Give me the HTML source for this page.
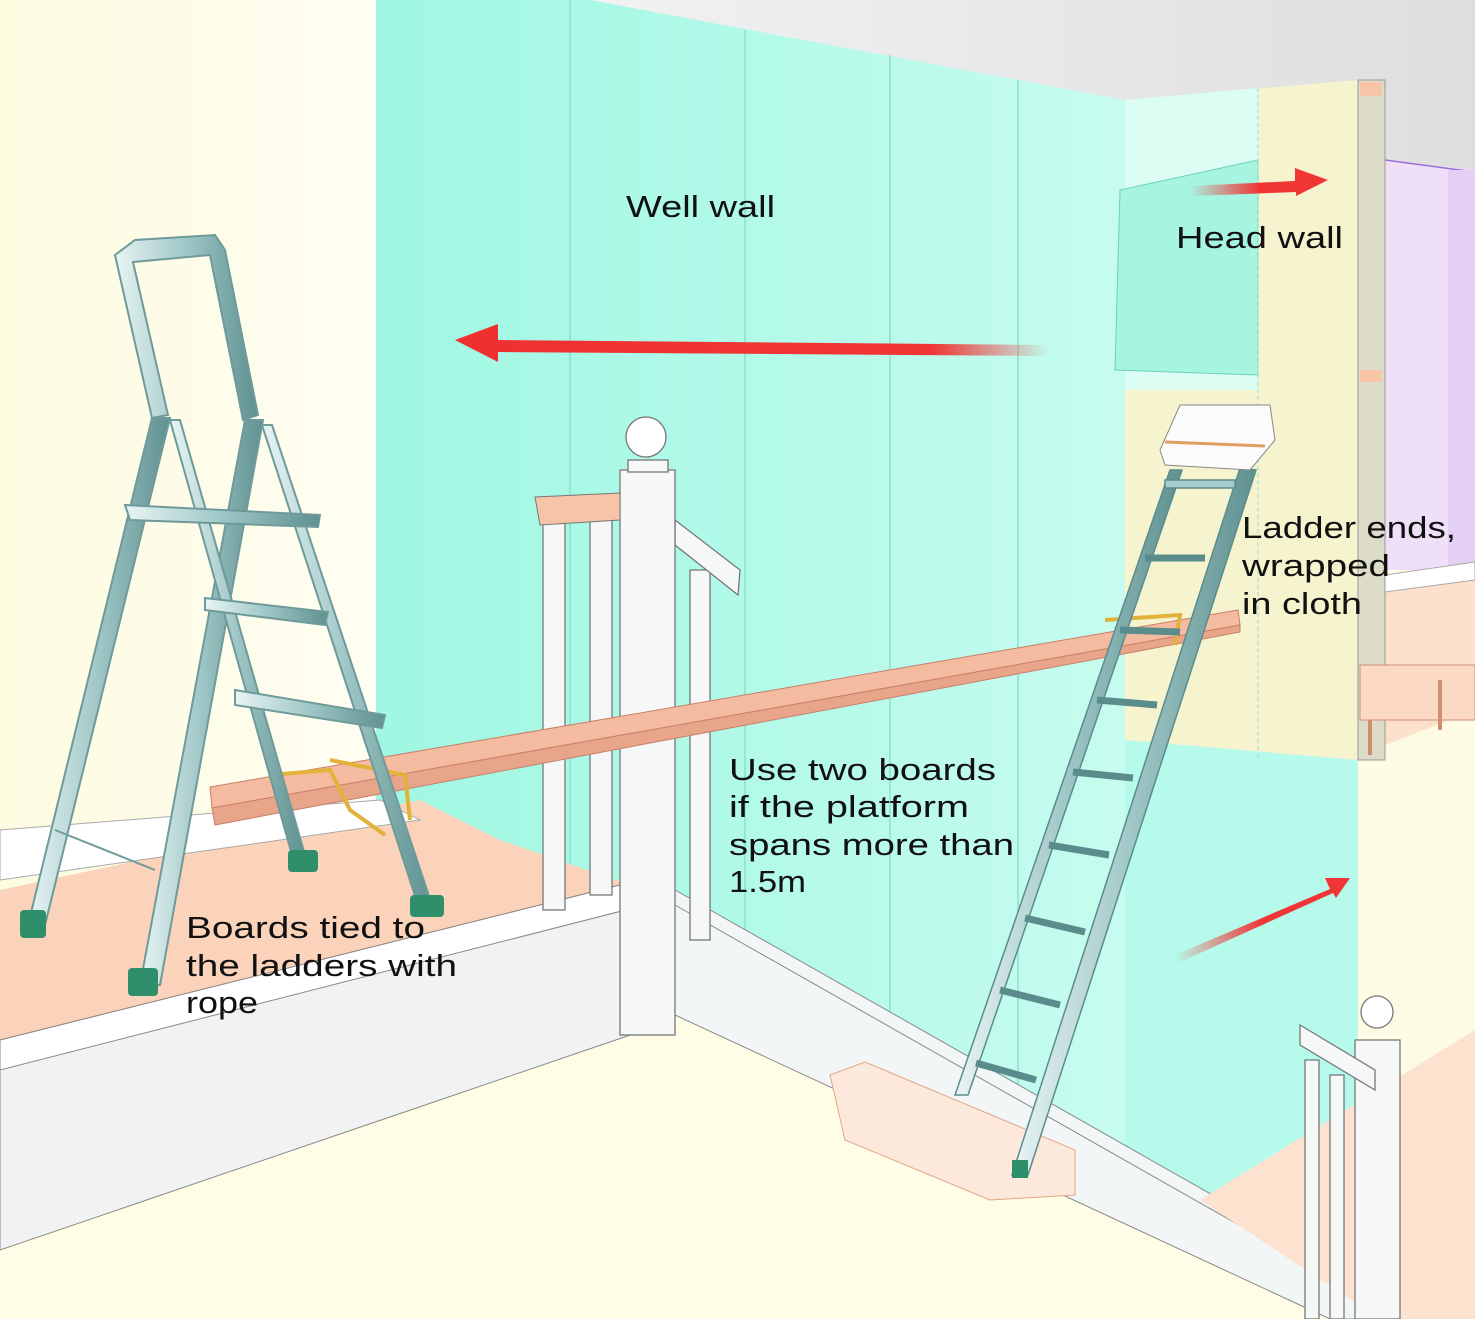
<!DOCTYPE html>
<html><head><meta charset="utf-8"><style>
html,body{margin:0;padding:0;background:#fff}
svg{display:block}
text{font-family:"Liberation Sans",sans-serif;font-size:31px;fill:#111}
</style></head><body>
<svg width="1475" height="1319" viewBox="0 0 1475 1319" xmlns="http://www.w3.org/2000/svg">
<defs>
<linearGradient id="lw" x1="0" x2="1"><stop offset="0" stop-color="#fdfbe0"/><stop offset="1" stop-color="#fffef2"/></linearGradient>
<linearGradient id="gw" x1="0" x2="1"><stop offset="0" stop-color="#9ff7e2"/><stop offset="1" stop-color="#c6fcef"/></linearGradient>
<linearGradient id="ceil" x1="0" x2="1"><stop offset="0" stop-color="#ffffff"/><stop offset="1" stop-color="#dedede"/></linearGradient>
<linearGradient id="ra" x1="0" x2="1"><stop offset="0" stop-color="#f03030"/><stop offset="0.8" stop-color="#f03535"/><stop offset="1" stop-color="#f03535" stop-opacity="0"/></linearGradient>
<linearGradient id="rb" x1="0" x2="1"><stop offset="0" stop-color="#f03535" stop-opacity="0"/><stop offset="0.5" stop-color="#f03535"/><stop offset="1" stop-color="#f03535"/></linearGradient>
<linearGradient id="met" x1="0" x2="1"><stop offset="0" stop-color="#e8f4f4"/><stop offset="0.5" stop-color="#9fc6c6"/><stop offset="1" stop-color="#5f9090"/></linearGradient>
</defs>
<rect width="1475" height="1319" fill="url(#ceil)"/>
<rect x="0" y="0" width="376" height="1319" fill="url(#lw)"/>
<polygon points="376,0 590,0 1125,100 1125,1319 376,1319" fill="url(#gw)"/>
<g stroke="#7fdcc6" stroke-width="1.2">
<line x1="570" y1="0" x2="570" y2="900"/><line x1="745" y1="30" x2="745" y2="1000"/>
<line x1="890" y1="55" x2="890" y2="1080"/><line x1="1018" y1="80" x2="1018" y2="1150"/>
<line x1="1215" y1="740" x2="1215" y2="1200"/><line x1="1300" y1="740" x2="1300" y2="1260"/>
</g>
<polygon points="1125,740 1360,760 1360,1319 1125,1319" fill="#b5faea"/>
<rect x="1358" y="560" width="117" height="759" fill="#fdfbe3"/>
<polygon points="1385,160 1475,170 1475,570 1385,570" fill="#efdff9"/>
<line x1="1385" y1="160" x2="1475" y2="172" stroke="#9a70d8" stroke-width="1.5"/>
<rect x="1448" y="170" width="27" height="400" fill="#e4cff5"/>
<polygon points="1385,590 1475,578 1475,710 1385,745" fill="#fde0cc"/>
<polygon points="1385,575 1475,562 1475,580 1385,592" fill="#fff" stroke="#aaa"/>
<polygon points="1125,100 1358,80 1358,760 1125,740" fill="#f6f3cf"/>
<polygon points="1125,100 1258,88 1258,390 1125,390" fill="#dcfdf3"/>
<polygon points="1115,370 1258,375 1258,160 1120,190" fill="#a6f5e0" stroke="#6ed0b8"/>
<line x1="1258" y1="88" x2="1258" y2="760" stroke="#9edccb" stroke-dasharray="4,3"/>
<rect x="1358" y="80" width="27" height="680" fill="#dcdcc8" stroke="#999"/>
<rect x="1360" y="82" width="22" height="14" fill="#f7c4a8"/>
<rect x="1360" y="370" width="22" height="12" fill="#f7c4a8"/>
<rect x="1360" y="665" width="115" height="55" fill="#fcd9c3" stroke="#d08e70"/>
<line x1="1370" y1="720" x2="1370" y2="755" stroke="#d08e70" stroke-width="4"/>
<line x1="1440" y1="680" x2="1440" y2="730" stroke="#d08e70" stroke-width="4"/>
<polygon points="0,890 420,800 500,840 645,890 645,1030 0,1060" fill="#fbd3bb"/>
<polygon points="0,830 380,800 420,820 0,880" fill="#fff" stroke="#aaa"/>
<polygon points="0,1319 0,1250 645,1030 675,1010 1380,1319" fill="#fffde6"/>
<polygon points="0,1040 640,880 645,900 645,1030 0,1250" fill="#f1f3f3" stroke="#888"/>
<polygon points="0,1040 640,880 645,905 0,1070" fill="#fff" stroke="#888"/>
<polygon points="675,890 1380,1290 1380,1319 1330,1319 675,1015" fill="#f3f6f6" stroke="#888"/>
<line x1="675" y1="905" x2="1380" y2="1305" stroke="#888"/>
<polygon points="1200,1200 1475,1030 1475,1319 1380,1319" fill="#fde2d0"/>
<polygon points="830,1075 865,1062 1075,1150 1075,1195 990,1200 845,1140" fill="#fde9dc" stroke="#e0a888"/>
<polygon points="1050,345 498,340 498,324 455,340 498,362 498,352 1050,356" fill="url(#ra)"/>
<polygon points="1190,186 1295,181 1295,168 1328,180 1296,196 1296,192 1190,196" fill="url(#rb)"/>
<polygon points="1175,955 1330,889 1325,878 1350,878 1336,898 1333,893 1180,962" fill="url(#rb)"/>
<g fill="#f6f8f8" stroke="#777" stroke-width="1.3">
<rect x="543" y="520" width="22" height="390"/>
<rect x="590" y="520" width="22" height="375"/>
<rect x="690" y="570" width="20" height="370"/>
<polygon points="675,520 740,570 738,595 675,545"/>
<rect x="620" y="470" width="55" height="565"/>
<rect x="628" y="460" width="40" height="12"/>
<circle cx="646" cy="437" r="20" fill="#fff"/>
<rect x="1355" y="1040" width="45" height="279"/>
<rect x="1305" y="1060" width="14" height="259"/>
<rect x="1330" y="1075" width="14" height="244"/>
<circle cx="1377" cy="1012" r="16" fill="#fff"/>
<polygon points="1300,1025 1375,1070 1375,1090 1300,1045"/>
</g>
<polygon points="535,497 620,493 620,520 540,525" fill="#f7c4a8" stroke="#777"/>
<polygon points="210,787 1238,610 1240,625 212,808" fill="#f5bba0" stroke="#c8806a"/>
<polygon points="212,808 1240,625 1240,632 215,825" fill="#e8a58a" stroke="#c8806a"/>
<g stroke="#e2b23a" stroke-width="4" fill="none">
<path d="M270,775 L330,770 L350,810 L385,835"/><path d="M330,760 L405,775 L410,820"/>
<path d="M1105,620 L1180,615 L1175,645"/>
</g>
<g stroke="#6e9a9a" stroke-width="2" fill="url(#met)">
<polygon points="115,255 135,240 215,235 225,250 258,415 243,420 210,255 133,262 168,415 152,418"/>
<polygon points="152,418 170,418 45,925 28,925"/>
<polygon points="245,420 263,420 160,985 140,985"/>
<polygon points="170,420 180,420 305,855 292,855"/>
<polygon points="262,425 272,425 432,905 418,905"/>
<polygon points="125,505 320,515 318,527 130,520"/>
<polygon points="205,598 328,612 325,625 205,610"/>
<polygon points="235,690 385,715 382,728 235,705"/>
<line x1="55" y1="830" x2="155" y2="870"/>
</g>
<g fill="#2f8f6a"><rect x="20" y="910" width="26" height="28" rx="4"/><rect x="128" y="968" width="30" height="28" rx="4"/><rect x="288" y="850" width="30" height="22" rx="4"/><rect x="410" y="895" width="34" height="22" rx="4"/></g>
<g stroke="#5a8c8c" stroke-width="1.5" fill="url(#met)">
<polygon points="1170,470 1182,470 968,1095 955,1095"/>
<polygon points="1240,468 1256,470 1028,1175 1012,1175"/>
<g fill="#a9cccc">
<rect x="1165" y="480" width="70" height="8"/>
<line x1="1145" y1="558" x2="1205" y2="558" stroke-width="7"/>
<line x1="1120" y1="630" x2="1180" y2="632" stroke-width="7"/>
<line x1="1097" y1="700" x2="1157" y2="705" stroke-width="7"/>
<line x1="1073" y1="772" x2="1133" y2="778" stroke-width="7"/>
<line x1="1049" y1="845" x2="1109" y2="855" stroke-width="7"/>
<line x1="1025" y1="918" x2="1085" y2="932" stroke-width="7"/>
<line x1="1000" y1="990" x2="1060" y2="1005" stroke-width="7"/>
<line x1="976" y1="1063" x2="1036" y2="1080" stroke-width="7"/>
</g></g>
<rect x="1012" y="1160" width="16" height="18" fill="#2f8f6a"/>
<path d="M1180,405 L1270,405 L1275,440 L1250,470 L1165,465 L1160,450 Z" fill="#fbfbfb" stroke="#888"/>
<path d="M1165,442 L1265,446" stroke="#e0a060" stroke-width="3"/>
<g>
<text x="626" y="217" textLength="149" lengthAdjust="spacingAndGlyphs">Well wall</text>
<text x="1176" y="248" textLength="167" lengthAdjust="spacingAndGlyphs">Head wall</text>
<text x="1242" y="538" textLength="214" lengthAdjust="spacingAndGlyphs">Ladder ends,</text>
<text x="1242" y="576" textLength="148" lengthAdjust="spacingAndGlyphs">wrapped</text>
<text x="1242" y="614" textLength="120" lengthAdjust="spacingAndGlyphs">in cloth</text>
<text x="729" y="780" textLength="267" lengthAdjust="spacingAndGlyphs">Use two boards</text>
<text x="729" y="817" textLength="240" lengthAdjust="spacingAndGlyphs">if the platform</text>
<text x="729" y="855" textLength="285" lengthAdjust="spacingAndGlyphs">spans more than</text>
<text x="729" y="892" textLength="77" lengthAdjust="spacingAndGlyphs">1.5m</text>
<text x="186" y="938" textLength="239" lengthAdjust="spacingAndGlyphs">Boards tied to</text>
<text x="186" y="976" textLength="271" lengthAdjust="spacingAndGlyphs">the ladders with</text>
<text x="186" y="1013" textLength="72" lengthAdjust="spacingAndGlyphs">rope</text>
</g>
</svg>
</body></html>
